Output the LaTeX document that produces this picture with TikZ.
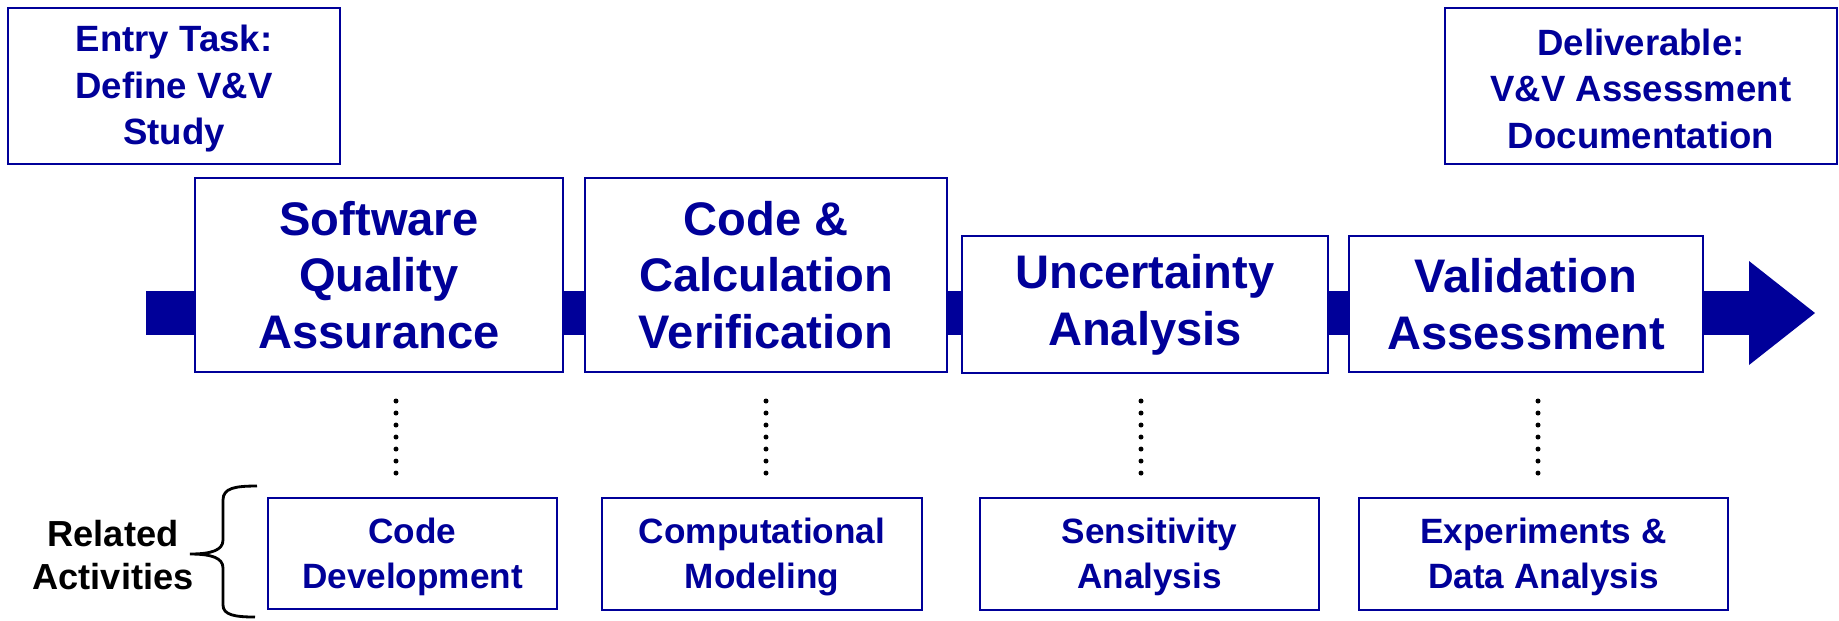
\documentclass[tikz,border=0pt]{standalone}
\usepackage{fontspec}
\setmainfont{Liberation Sans}
\usetikzlibrary{calc}
\definecolor{vvblue}{RGB}{0,0,153}
\begin{document}
\begin{tikzpicture}[x=0.01cm,y=-0.01cm,
  box/.style={draw=vvblue, line width=0.6pt, fill=white, align=center, inner sep=0pt, text=vvblue},
  mainbox/.style={box, font=\fontsize{13.4}{16.1}\selectfont\bfseries},
  topbox/.style={box, font=\fontsize{10.4}{13.2}\selectfont\bfseries},
  relbox/.style={box, font=\fontsize{10}{12.8}\selectfont\bfseries},
  bar/.style={draw=vvblue, line width=0.44cm},
  dotline/.style={draw=black, line width=0.05cm, line cap=round, dash pattern=on 0pt off 0.12cm},
  bracestyle/.style={draw=black, line width=0.8pt},
  lbl/.style={align=center, inner sep=0pt, font=\fontsize{10.3}{12.4}\selectfont\bfseries}]
\useasboundingbox (0,0) rectangle (1839,620);

% top boxes
\node[topbox, minimum width=3.32cm, minimum height=1.56cm] (entry) at (174,86) {\rule{0pt}{9pt}Entry Task:\\Define V\&V\\Study};
\node[topbox, minimum width=3.92cm, minimum height=1.56cm] (deliv) at (1641,86) {\rule{0pt}{9pt}Deliverable:\\V\&V Assessment\\Documentation};

% backbone coordinates
\coordinate (start) at (146,313);
\coordinate (tip) at (1815,313);

% main boxes
\node[mainbox, minimum width=3.68cm, minimum height=1.94cm] (sqa) at (379,275) {Software\\Quality\\Assurance};
\node[mainbox, minimum width=3.62cm, minimum height=1.94cm] (ccv) at (766,275) {Code \&\\Calculation\\Verification};
\node[mainbox, minimum width=3.66cm, minimum height=1.37cm] (unc) at (1145,304.5) {Uncertainty\\Analysis};
\node[mainbox, minimum width=3.54cm, minimum height=1.36cm] (val) at (1526,304) {Validation\\Assessment};

% backbone bar
\draw[bar] (start) -- (start -| sqa.west);
\draw[bar] (sqa.east |- start) -- (start -| ccv.west);
\draw[bar] (ccv.east |- start) -- (start -| unc.west);
\draw[bar] (unc.east |- start) -- (start -| val.west);
\coordinate (headbase) at ($(tip)+(-66,0)$);
\draw[bar] (val.east |- start) -- (headbase);
\fill[vvblue] (tip) -- ($(headbase)+(0,-52)$) -- ($(headbase)+(0,52)$) -- cycle;

% related boxes
\node[relbox, minimum width=2.89cm, minimum height=1.11cm] (cd) at (412.5,553.5) {\rule{0pt}{9pt}Code\\Development};
\node[relbox, minimum width=3.20cm, minimum height=1.12cm] (cm) at (762,554) {\rule{0pt}{9pt}Computational\\Modeling};
\node[relbox, minimum width=3.39cm, minimum height=1.12cm] (sa) at (1149.5,554) {\rule{0pt}{9pt}Sensitivity\\Analysis};
\node[relbox, minimum width=3.69cm, minimum height=1.12cm] (eda) at (1543.5,554) {\rule{0pt}{9pt}Experiments \&\\Data Analysis};

% dotted links
\coordinate (d1a) at (396,401);  \coordinate (d1b) at (396,474);
\coordinate (d2a) at (766,401);  \coordinate (d2b) at (766,474);
\coordinate (d3a) at (1141,401); \coordinate (d3b) at (1141,474);
\coordinate (d4a) at (1538,401); \coordinate (d4b) at (1538,474);
\draw[dotline] (d1a) -- (d1b);
\draw[dotline] (d2a) -- (d2b);
\draw[dotline] (d3a) -- (d3b);
\draw[dotline] (d4a) -- (d4b);

% brace and label
\node[lbl] (rel) at (113,555) {Related\\Activities};
\draw[bracestyle] (257,486) .. controls (235,486) and (223,488) .. (223,500) -- (223,540)
  .. controls (223,550) and (212,554) .. (190,554)
  .. controls (212,554) and (223,558) .. (223,568) -- (223,605)
  .. controls (223,615) and (235,617) .. (255,617);
\end{tikzpicture}
\end{document}
